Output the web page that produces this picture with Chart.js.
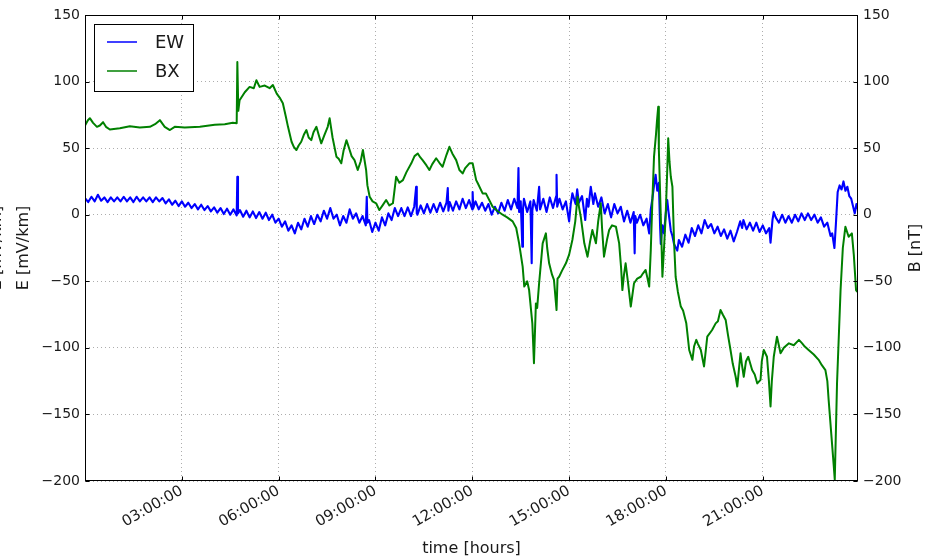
<!DOCTYPE html>
<html>
<head>
<meta charset="utf-8">
<script src="https://cdn.jsdelivr.net/npm/chart.js@4.4.1/dist/chart.umd.min.js"></script>
<style>
  html, body { margin: 0; padding: 0; background: #fff; }
  #wrap { position: relative; width: 937px; height: 560px; }
</style>
</head>
<body>
<div id="wrap"><canvas id="field-chart" width="937" height="560"></canvas></div>
<script>
// time axis, hours since 00:00
const tickHours = [3, 6, 9, 12, 15, 18, 21];
const tickLabels = ['03:00:00', '06:00:00', '09:00:00', '12:00:00', '15:00:00', '18:00:00', '21:00:00'];

// EW electric field [mV/km]
const ewHours = [
  0, 0.1, 0.2, 0.3, 0.4, 0.5, 0.6, 0.7, 0.8, 0.9,
  1.0, 1.1, 1.2, 1.3, 1.4, 1.5, 1.6, 1.7, 1.8, 1.9,
  2.0, 2.1, 2.2, 2.3, 2.4, 2.5, 2.6, 2.7, 2.8, 2.9,
  3.0, 3.1, 3.2, 3.3, 3.4, 3.5, 3.6, 3.7, 3.8, 3.9,
  4.0, 4.1, 4.2, 4.3, 4.4, 4.5, 4.6, 4.7, 4.72, 4.74, 4.8, 4.9,
  5.0, 5.1, 5.2, 5.3, 5.4, 5.5, 5.6, 5.7, 5.8, 5.9,
  6.0, 6.1, 6.2, 6.3, 6.4, 6.5, 6.6, 6.7, 6.8, 6.9,
  7.0, 7.1, 7.2, 7.3, 7.4, 7.5, 7.6, 7.7, 7.8, 7.9,
  8.0, 8.1, 8.2, 8.3, 8.4, 8.5, 8.6, 8.7, 8.73, 8.75, 8.8, 8.9,
  9.0, 9.1, 9.2, 9.3, 9.4, 9.5, 9.6, 9.7, 9.8, 9.9,
  10.0, 10.1, 10.2, 10.26, 10.28, 10.3, 10.4, 10.5, 10.6, 10.7, 10.8, 10.9,
  11.0, 11.1, 11.2, 11.24, 11.26, 11.3, 11.4, 11.5, 11.6, 11.7, 11.8, 11.9,
  12.0, 12.01, 12.03, 12.1, 12.2, 12.3, 12.4, 12.5, 12.6, 12.7, 12.8, 12.9,
  13.0, 13.1, 13.2, 13.3, 13.4, 13.43, 13.45, 13.5, 13.55, 13.57, 13.6, 13.7, 13.8, 13.84, 13.86, 13.9,
  14.0, 14.07, 14.1, 14.2, 14.3, 14.4, 14.5, 14.6, 14.61, 14.63, 14.7, 14.8, 14.9,
  15.0, 15.05, 15.1, 15.2, 15.25, 15.3, 15.4, 15.5, 15.55, 15.6, 15.67, 15.75, 15.8, 15.9,
  16.0, 16.1, 16.2, 16.3, 16.4, 16.5, 16.6, 16.7, 16.8, 16.9,
  17.0, 17.03, 17.05, 17.1, 17.2, 17.3, 17.4, 17.48, 17.53, 17.58, 17.63, 17.68, 17.73, 17.78, 17.82, 17.84, 17.89, 17.94, 17.99,
  18.04, 18.08, 18.15, 18.2, 18.25, 18.35, 18.4, 18.5, 18.6, 18.7, 18.8, 18.9,
  19.0, 19.1, 19.2, 19.3, 19.4, 19.5, 19.6, 19.7, 19.8, 19.9,
  20.0, 20.1, 20.2, 20.3, 20.36, 20.4, 20.5, 20.6, 20.7, 20.8, 20.9,
  21.0, 21.1, 21.2, 21.24, 21.3, 21.34, 21.4, 21.5, 21.6, 21.7, 21.8, 21.9,
  22.0, 22.1, 22.2, 22.3, 22.4, 22.5, 22.6, 22.7, 22.8, 22.9,
  23.0, 23.1, 23.15, 23.22, 23.27, 23.32, 23.38, 23.44, 23.5, 23.56, 23.62, 23.68, 23.74, 23.8, 23.85, 23.9, 23.95
];
const ewValues = [
  12.5, 9.5, 13.5, 10, 15, 10.5, 13, 9.5, 13, 10,
  13, 10, 13.5, 10, 13, 9.5, 13.5, 10, 13, 10,
  13, 9.5, 13, 10, 12.5, 8.5, 11.5, 7.5, 10.5, 6.5,
  10, 6, 9, 5, 8, 4, 7.5, 3.5, 6.5, 2.5,
  5.5, 1.5, 5, 0.5, 4.5, 0, 4, -0.5, 28.5, 1, 3.5, -1.5,
  3, -2, 2.5, -2.5, 2, -3, 1.5, -4, 0, -6,
  -3, -9, -5, -12, -8, -14, -6, -11, -3, -9,
  -1, -7, 0, -5, 3, -3, 5, -3, 0, -8,
  -1, -6, 4, -3, 1, -6, -1, -8, 13.5, -6, -4, -13,
  -6, -12, -2, -8, 1, -4, 5, -1, 5, -1,
  5.5, -1, 6, 21, 1, 0, 7, 1, 8, 1.5, 8, 2,
  9, 2.5, 9, 20, 3, 9.5, 3, 10, 4, 12, 5, 11,
  4, 17, 5, 10, 4, 9, 3, 8, 0, 6, 1, 9,
  3, 11, 4, 12, 5, 35, 2, 10, -24, 4, 12, 2, 10, -36.5, 3, 11,
  3, 21, 4, 12, 2, 13, 5, 14, 30, 6, 12, 4, 10,
  -5, 8, 16, 8, 19, 9, 14, -4, 12, 6, 21, 8, 16, 6,
  13, 1, 8, -2, 8, 1, 6, -5, 3, -6,
  2, -29, -1, -6, 0, -8, -3, -14, 4, 12, 22, 30, 18, 24, -10, -22, -8, -14, 0,
  11, 2, -12, -16, -22, -27, -19, -24, -15, -21, -10, -16,
  -8, -14, -4, -10, -7, -14, -9, -16, -11, -18,
  -12, -20, -13, -5, -10, -4, -11, -6, -12, -6, -13,
  -8, -14, -10, -21, -4, 2, -2, -6, 0, -6, -1, -6,
  0, -5, 1, -4, 1, -4, 0, -6, -2, -9,
  -6, -16, -14, -25, -5, 17, 22, 19, 25, 18, 21, 14, 12, 6, 1, 8, 4
];

// BX magnetic field [nT]
const bxHours = [
  0.00, 0.09, 0.15, 0.25, 0.37, 0.46, 0.56, 0.65, 0.77,
  1.08, 1.39, 1.70, 2.01, 2.17, 2.32, 2.47, 2.63, 2.78, 3.09, 3.56, 4.02, 4.33, 4.58, 4.70,
  4.72, 4.75, 4.79, 4.95, 5.10, 5.23, 5.31, 5.41, 5.57, 5.72, 5.82, 5.94,
  6.03, 6.13, 6.22, 6.29, 6.40, 6.47, 6.55, 6.62, 6.70, 6.78, 6.86, 6.93,
  7.01, 7.08, 7.17, 7.24, 7.32, 7.42, 7.52, 7.58, 7.67, 7.79, 7.86, 7.94,
  8.01, 8.10, 8.20, 8.26, 8.35, 8.45, 8.54, 8.61, 8.71, 8.75, 8.82, 8.91,
  9.02, 9.12, 9.22, 9.33, 9.43, 9.54, 9.64, 9.74, 9.85, 9.96,
  10.11, 10.21, 10.31, 10.39, 10.46, 10.58, 10.67, 10.76, 10.88, 10.98,
  11.08, 11.20, 11.29, 11.38, 11.50, 11.60, 11.70, 11.78, 11.91,
  12.01, 12.12, 12.17, 12.32, 12.42, 12.63, 12.77, 12.94,
  13.08, 13.25, 13.36, 13.45, 13.56, 13.61, 13.70, 13.76, 13.86, 13.91, 13.97,
  14.01, 14.07, 14.18, 14.28, 14.32, 14.38, 14.47, 14.53, 14.61, 14.64, 14.69, 14.78, 14.90,
  15.00, 15.10, 15.19, 15.26, 15.31, 15.36, 15.47, 15.57, 15.65, 15.72, 15.83, 15.90, 15.98,
  16.02, 16.08, 16.18, 16.24, 16.33, 16.45, 16.55, 16.61, 16.65, 16.70, 16.75, 16.82, 16.91,
  17.01, 17.11, 17.22, 17.29, 17.37, 17.43, 17.48, 17.53, 17.58, 17.63, 17.69, 17.72, 17.76, 17.78, 17.84, 17.89, 17.94, 17.99,
  18.04, 18.07, 18.11, 18.15, 18.20, 18.25, 18.30, 18.37, 18.46, 18.53, 18.63, 18.72, 18.82, 18.87, 18.94, 18.99,
  19.08, 19.18, 19.28, 19.43, 19.54, 19.61, 19.69, 19.76, 19.85, 19.92,
  20.00, 20.07, 20.16, 20.21, 20.31, 20.35, 20.41, 20.48, 20.55, 20.67, 20.75, 20.83, 20.93, 20.97,
  21.03, 21.13, 21.19, 21.24, 21.28, 21.34, 21.44, 21.55, 21.65, 21.81, 21.96,
  22.12, 22.22, 22.30, 22.42, 22.58, 22.73, 22.83, 22.94,
  23.00, 23.04, 23.12, 23.20, 23.23, 23.30, 23.41, 23.48, 23.56, 23.66, 23.76, 23.82, 23.89, 23.93
];
const bxValues = [
  67, 71, 72.5, 69, 66, 67, 69.5, 66, 64,
  65, 66.5, 65.5, 66, 68, 71, 66, 63.6, 66, 65.5, 66, 67.5, 68, 69, 68.7,
  114.7, 78, 86, 92, 96, 95, 101, 96, 97, 95, 97.4, 91,
  88, 83.7, 74, 66, 54.8, 51, 48.6, 52, 54.8, 60, 63.6, 58,
  56, 62, 66, 60, 53.6, 60, 66, 72.4, 58, 43.6, 42, 38.6,
  48, 56, 48.6, 44, 41, 33.6, 40, 48.6, 33.6, 22, 13.5, 10,
  8.6, 3.5, 7, 11, 7, 8.6, 28.5, 24, 26, 32,
  38.6, 44, 46, 43, 41, 37, 33.6, 38, 42.4, 39,
  36, 45, 51, 46, 41, 33.6, 31, 35, 38.6,
  38.6, 26, 23.6, 16, 16, 6, 3, 0,
  -2, -5, -10, -21.5, -39, -54, -50, -56.6, -81.6, -111.6, -66.6,
  -70, -51.5, -21.5, -14, -25, -36.5, -45, -49, -71.6, -48, -46.6, -42, -36.5,
  -30, -19, -5, 13.5, 5, -1.5, -21.5, -31.5, -20, -11.5, -21.5, -5, 8.6,
  -10, -31.5, -18, -11.5, -8, -9, -21.5, -40, -56.6, -45, -36.5, -50, -69,
  -51.5, -48, -46.6, -44, -41.5, -48, -54, -26.5, 11, 43.6, 60, 70, 81, 48.6, -1.5, -46.6, -25, -1.5,
  33.6, 57.4, 40, 28.5, 21, -20, -46.6, -58, -69, -72, -81.6, -101.6, -109, -99, -94, -97,
  -101.6, -114, -91.6, -86.6, -81.6, -80, -71.6, -75, -79, -90,
  -101.6, -112, -121.7, -129, -104, -112, -121.7, -110, -106.7, -116.7, -120, -126.7, -124, -110,
  -101.6, -106.7, -125, -144, -125, -106.7, -91.6, -104, -100, -96.6, -98,
  -94, -96.6, -99, -101.6, -105, -109, -113, -116.7,
  -125, -139, -164, -189, -199, -126.7, -56.6, -25, -9, -16.5, -14, -30, -56.6, -58
];

const yMin = -200;
const yMax = 150;
const yStep = 50;

const fontFamily = "'DejaVu Sans', 'Liberation Sans', sans-serif";
const textColor = '#1a1a1a';
const gridColor = 'rgba(0, 0, 0, 0.32)';

const toPoints = (xs, ys) => xs.map((x, i) => ({ x: x, y: ys[i] }));
const withMinus = (v) => String(v).replace('-', '\u2212');

// spines, inward ticks, legend box and axis titles (matplotlib classic look)
const framePlugin = {
  id: 'frame',
  afterDatasetsDraw(chart) {
    const { ctx, chartArea: a, scales } = chart;
    const left = Math.round(a.left) + 0.5;
    const right = Math.round(a.right) - 0.5;
    const top = Math.round(a.top) + 0.5;
    const bottom = Math.round(a.bottom) - 0.5;
    ctx.save();
    ctx.strokeStyle = '#000';
    ctx.lineWidth = 1;
    ctx.strokeRect(left, top, right - left, bottom - top);

    ctx.beginPath();
    tickHours.forEach((h) => {
      const px = Math.round(scales.x.getPixelForValue(h)) + 0.5;
      ctx.moveTo(px, bottom); ctx.lineTo(px, bottom - 4);
      ctx.moveTo(px, top); ctx.lineTo(px, top + 4);
    });
    for (let v = yMin; v <= yMax; v += yStep) {
      const py = Math.round(scales.y.getPixelForValue(v)) + 0.5;
      ctx.moveTo(left, py); ctx.lineTo(left + 4, py);
      ctx.moveTo(right, py); ctx.lineTo(right - 4, py);
    }
    ctx.stroke();

    // legend
    ctx.fillStyle = '#fff';
    ctx.fillRect(94.5, 24.5, 99, 67);
    ctx.strokeRect(94.5, 24.5, 99, 67);
    const rows = [
      { label: 'EW', color: '#0000ff', y: 42 },
      { label: 'BX', color: '#008000', y: 71 }
    ];
    ctx.font = '18px ' + fontFamily;
    ctx.textBaseline = 'middle';
    ctx.textAlign = 'left';
    rows.forEach((r) => {
      ctx.strokeStyle = r.color;
      ctx.lineWidth = 1.5;
      ctx.beginPath();
      ctx.moveTo(107, r.y); ctx.lineTo(137, r.y);
      ctx.stroke();
      ctx.fillStyle = textColor;
      ctx.fillText(r.label, 155, r.y + 1);
    });
    ctx.restore();
  },
  afterDraw(chart) {
    const { ctx, chartArea: a } = chart;
    const midY = (a.top + a.bottom) / 2;
    ctx.save();
    ctx.fillStyle = textColor;
    ctx.font = '16px ' + fontFamily;
    ctx.textAlign = 'center';
    ctx.textBaseline = 'middle';
    ctx.fillText('time [hours]', (a.left + a.right) / 2, 549);
    const vertical = (text, x) => {
      ctx.save();
      ctx.translate(x, midY);
      ctx.rotate(-Math.PI / 2);
      ctx.fillText(text, 0, 0);
      ctx.restore();
    };
    vertical('E [mV/km]', -3);
    vertical('E [mV/km]', 24);
    vertical('B [nT]', 916);
    ctx.restore();
  }
};

const tickFont = { family: fontFamily, size: 14 };

const config = {
  type: 'line',
  data: {
    datasets: [
      {
        label: 'EW',
        data: toPoints(ewHours, ewValues),
        yAxisID: 'y',
        borderColor: '#0000ff',
        borderWidth: 2.1,
        pointRadius: 0,
        order: 2
      },
      {
        label: 'BX',
        data: toPoints(bxHours, bxValues),
        yAxisID: 'y1',
        borderColor: '#008000',
        borderWidth: 2,
        pointRadius: 0,
        order: 1
      }
    ]
  },
  options: {
    responsive: false,
    animation: false,
    layout: { padding: { top: 15, left: 0, right: 0, bottom: 0 } },
    elements: { line: { tension: 0, borderJoinStyle: 'round' } },
    plugins: {
      legend: { display: false },
      tooltip: { enabled: false }
    },
    scales: {
      x: {
        type: 'linear',
        min: 0,
        max: 23.95,
        afterBuildTicks: (axis) => { axis.ticks = tickHours.map((v) => ({ value: v })); },
        afterFit: (scale) => { scale.height = 79; },
        grid: { color: gridColor, lineWidth: 1, drawTicks: false, borderDash: [1, 3] },
        border: { display: false, dash: [1, 3] },
        ticks: {
          autoSkip: false,
          minRotation: 30,
          maxRotation: 30,
          padding: 1,
          color: textColor,
          font: { family: fontFamily, size: 15 },
          callback: (v) => {
            const i = tickHours.indexOf(v);
            return i >= 0 ? tickLabels[i] : '';
          }
        }
      },
      y: {
        position: 'left',
        min: yMin,
        max: yMax,
        afterFit: (scale) => { scale.width = 85; },
        grid: { color: gridColor, lineWidth: 1, drawTicks: false, borderDash: [1, 3] },
        border: { display: false, dash: [1, 3] },
        ticks: { stepSize: yStep, padding: 5, color: textColor, font: tickFont, callback: (v) => withMinus(v) }
      },
      y1: {
        position: 'right',
        min: yMin,
        max: yMax,
        afterFit: (scale) => { scale.width = 79; },
        grid: { display: false, drawTicks: false },
        border: { display: false },
        ticks: { stepSize: yStep, padding: 5, color: textColor, font: tickFont, callback: (v) => withMinus(v) }
      }
    }
  },
  plugins: [framePlugin]
};

const ctx = document.getElementById('field-chart').getContext('2d');
window.fieldChart = new Chart(ctx, config);
</script>
</body>
</html>
